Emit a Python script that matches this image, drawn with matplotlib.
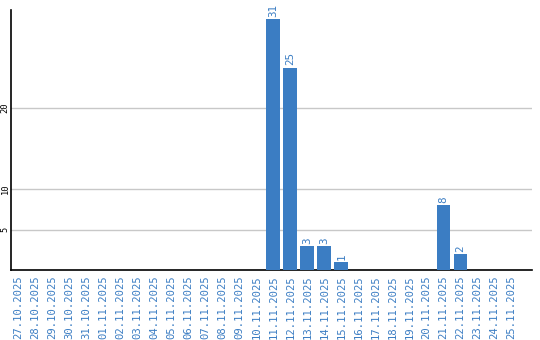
import matplotlib
matplotlib.use("Agg")
import matplotlib.pyplot as plt

dates = ["27.10.2025","28.10.2025","29.10.2025","30.10.2025","31.10.2025",
         "01.11.2025","02.11.2025","03.11.2025","04.11.2025","05.11.2025",
         "06.11.2025","07.11.2025","08.11.2025","09.11.2025","10.11.2025",
         "11.11.2025","12.11.2025","13.11.2025","14.11.2025","15.11.2025",
         "16.11.2025","17.11.2025","18.11.2025","19.11.2025","20.11.2025",
         "21.11.2025","22.11.2025","23.11.2025","24.11.2025","25.11.2025"]
values = [0,0,0,0,0, 0,0,0,0,0, 0,0,0,0,0, 31,25,3,3,1, 0,0,0,0,0, 8,2,0,0,0]
yticks = [5, 10, 20]

blue = "#3b7dc3"
fig = plt.figure(figsize=(5.4, 3.4), dpi=100)
ax = fig.add_axes([11/540, 1-270/340, (532-11)/540, 260/340])
x = list(range(len(dates)))
ax.bar(x, values, width=0.82, color=blue, zorder=3)
for xi, v in zip(x, values):
    if v > 0:
        ax.text(xi, v + 0.25, str(v), rotation=90, ha="center", va="bottom",
                color=blue, fontsize=7.8, family="DejaVu Sans Mono")
ax.set_xlim(-0.41, 30.2)
ax.set_ylim(0, 32.1)
ax.set_yticks(yticks)
ax.set_yticklabels([str(t) for t in yticks], rotation=90, va="center", fontsize=6.3,
                   family="DejaVu Sans Mono")
ax.yaxis.grid(True, color="#c8c8c8", linewidth=1, zorder=0)
ax.set_xticks(x)
ax.set_xticklabels(dates, rotation=90, fontsize=7.6, color=blue, family="DejaVu Sans Mono")
ax.tick_params(axis="both", length=0, pad=3.5)
ax.tick_params(axis="y", pad=1)
for s in ["top", "right"]:
    ax.spines[s].set_visible(False)
for s in ["left", "bottom"]:
    ax.spines[s].set_color("black")
    ax.spines[s].set_linewidth(1.2)
fig.savefig("out.png", dpi=100)
